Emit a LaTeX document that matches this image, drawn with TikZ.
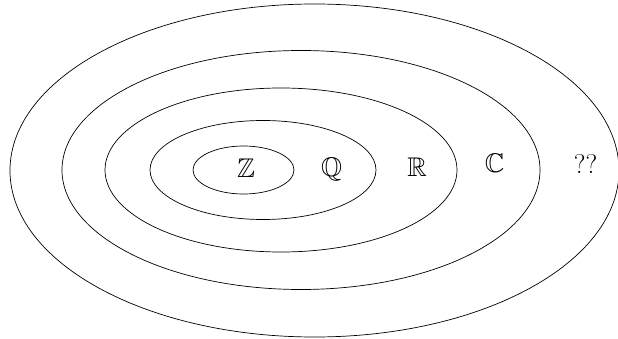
\documentclass[tikz,border=0pt]{standalone}
\usepackage{amsmath,amssymb}
\tikzset{
  numset/.style={draw=black,line width=0.7pt},
  setlabel/.style={anchor=base,inner sep=0pt,font=\fontsize{27}{31}\selectfont}
}

\begin{document}
\begin{tikzpicture}[x=1pt,y=1pt]
  \useasboundingbox (0,0) rectangle (618,-339);
  % nested sets, innermost first
  \draw[numset] (243.5,-170) ellipse [x radius=50.5pt,y radius=24pt];
  \draw[numset] (263,-170) ellipse [x radius=113pt,y radius=49.5pt];
  \draw[numset] (281,-170) ellipse [x radius=176pt,y radius=82pt];
  \draw[numset] (301,-170) ellipse [x radius=239pt,y radius=119.5pt];
  \draw[numset] (314.5,-170.5) ellipse [x radius=304.5pt,y radius=166.5pt];
  % labels
  \node[setlabel] (zz) at (246,-177.5) {$\mathbb{Z}$};
  \node[setlabel] (qq) at (331.5,-177) {$\mathbb{Q}$};
  \node[setlabel] (rr) at (417,-177) {$\mathbb{R}$};
  \node[setlabel] (cc) at (494.5,-172.5) {$\mathbb{C}$};
  \node[setlabel] (unk) at (585.5,-174) {??};
\end{tikzpicture}
\end{document}
